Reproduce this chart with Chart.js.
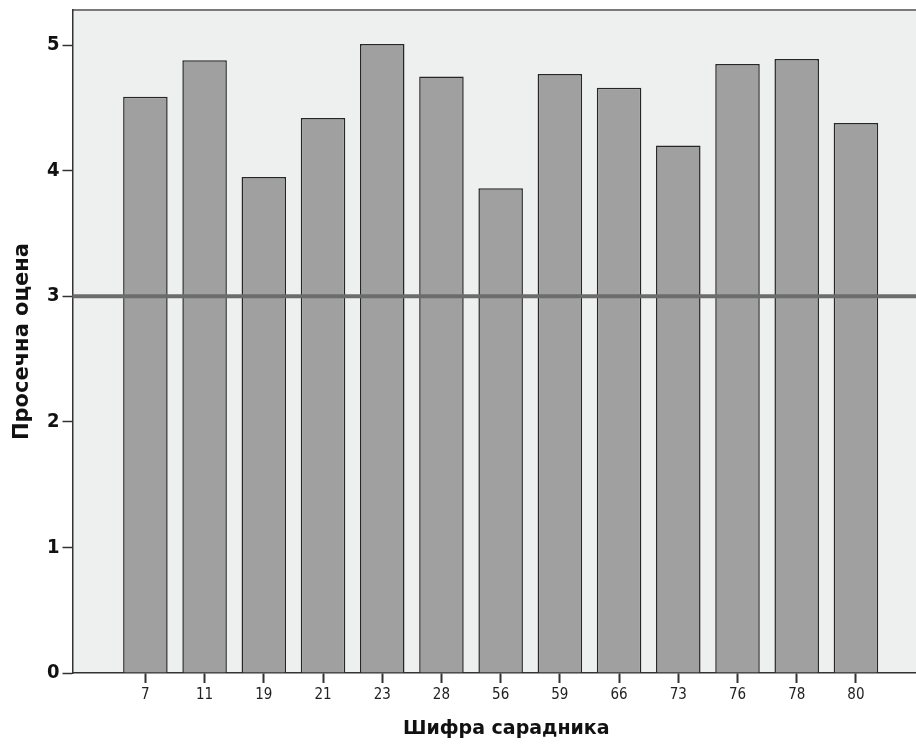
<!DOCTYPE html>
<html>
<head>
<meta charset="utf-8">
<script src="https://cdn.jsdelivr.net/npm/chart.js@4.4.1/dist/chart.umd.min.js"></script>
<style>
  html, body { margin: 0; padding: 0; overflow: hidden; background: #ffffff; }
  #wrap { position: relative; width: 940px; height: 746px; }
</style>
</head>
<body>
<div id="wrap"><canvas id="c"></canvas></div>
<script>
// ---- data ----
const categories = ['7', '11', '19', '21', '23', '28', '56', '59', '66', '73', '76', '78', '80'];
const meanScores = [4.59, 4.88, 3.95, 4.42, 5.01, 4.75, 3.86, 4.77, 4.66, 4.20, 4.85, 4.89, 4.38];
const yTicks = [0, 1, 2, 3, 4, 5];
const referenceValue = 3;
const xTitle = 'Шифра сарадника';
const yTitle = 'Просечна оцена';

const points = categories.map((c, i) => ({ x: i, y: meanScores[i] }));

const plotBg = {
  id: 'plotBg',
  beforeDraw(chart) {
    const { ctx, chartArea: a } = chart;
    ctx.save();
    ctx.fillStyle = '#eef0ef';
    ctx.fillRect(a.left, a.top, a.right - a.left, a.bottom - a.top);
    ctx.strokeStyle = '#7a7a7a';
    ctx.lineWidth = 2;
    ctx.beginPath();
    ctx.moveTo(a.left, a.top);
    ctx.lineTo(a.right, a.top);
    ctx.stroke();
    ctx.restore();
  }
};

const refLine = {
  id: 'refLine',
  afterDatasetsDraw(chart) {
    const { ctx, chartArea: a, scales } = chart;
    const y = scales.y.getPixelForValue(referenceValue);
    ctx.save();
    ctx.strokeStyle = '#6c6c6c';
    ctx.lineWidth = 4;
    ctx.beginPath();
    ctx.moveTo(a.left, y);
    ctx.lineTo(a.right, y);
    ctx.stroke();
    ctx.restore();
  }
};

const narrow = "'DejaVu Sans Condensed', 'Liberation Sans Narrow', 'Liberation Sans', Arial, sans-serif";

new Chart(document.getElementById('c'), {
  type: 'bar',
  data: {
    datasets: [{
      data: points,
      backgroundColor: '#9fa09f',
      borderColor: '#262626',
      borderWidth: 1.5,
      barPercentage: 0.752,
      categoryPercentage: 1.0
    }]
  },
  options: {
    responsive: true,
    maintainAspectRatio: false,
    animation: false,
    layout: { padding: { left: 0, right: 0, top: 10, bottom: 0 } },
    plugins: { legend: { display: false }, tooltip: { enabled: false } },
    scales: {
      x: {
        type: 'linear',
        offset: false,
        min: -1.231,
        max: 13.42,
        afterBuildTicks: (s) => { s.ticks = categories.map((c, i) => ({ value: i })); },
        afterFit: (s) => { s.height = 73; },
        ticks: {
          autoSkip: false,
          maxRotation: 0,
          padding: 3,
          color: '#222',
          font: { family: narrow, size: 15 },
          callback: (v) => categories[v] !== undefined ? categories[v] : ''
        },
        grid: { offset: false, drawOnChartArea: false, drawTicks: true, tickLength: 10, tickWidth: 2, color: '#333' },
        border: { display: true, color: '#333', width: 1.5 },
        title: {
          display: true,
          text: xTitle,
          color: '#111',
          font: { family: "'DejaVu Sans', 'Liberation Sans', Arial, sans-serif", size: 19, weight: 'bold' },
          padding: { top: 0, bottom: 6 }
        }
      },
      y: {
        min: 0,
        max: 5.28,
        afterBuildTicks: (s) => { s.ticks = yTicks.map(v => ({ value: v })); },
        afterFit: (s) => { s.width = 72.5; s.paddingTop = 0; },
        ticks: {
          padding: 3,
          color: '#111',
          font: { family: narrow, size: 20, weight: 'bold' }
        },
        grid: { drawOnChartArea: false, drawTicks: true, tickLength: 10, tickWidth: 1.5, color: '#333' },
        border: { display: true, color: '#333', width: 1.5 },
        title: {
          display: true,
          text: yTitle,
          color: '#111',
          font: { family: "'DejaVu Sans', 'Liberation Sans', Arial, sans-serif", size: 21, weight: 'bold' },
          padding: { top: 10, bottom: 0 }
        }
      }
    }
  },
  plugins: [plotBg, refLine]
});
</script>
</body>
</html>
